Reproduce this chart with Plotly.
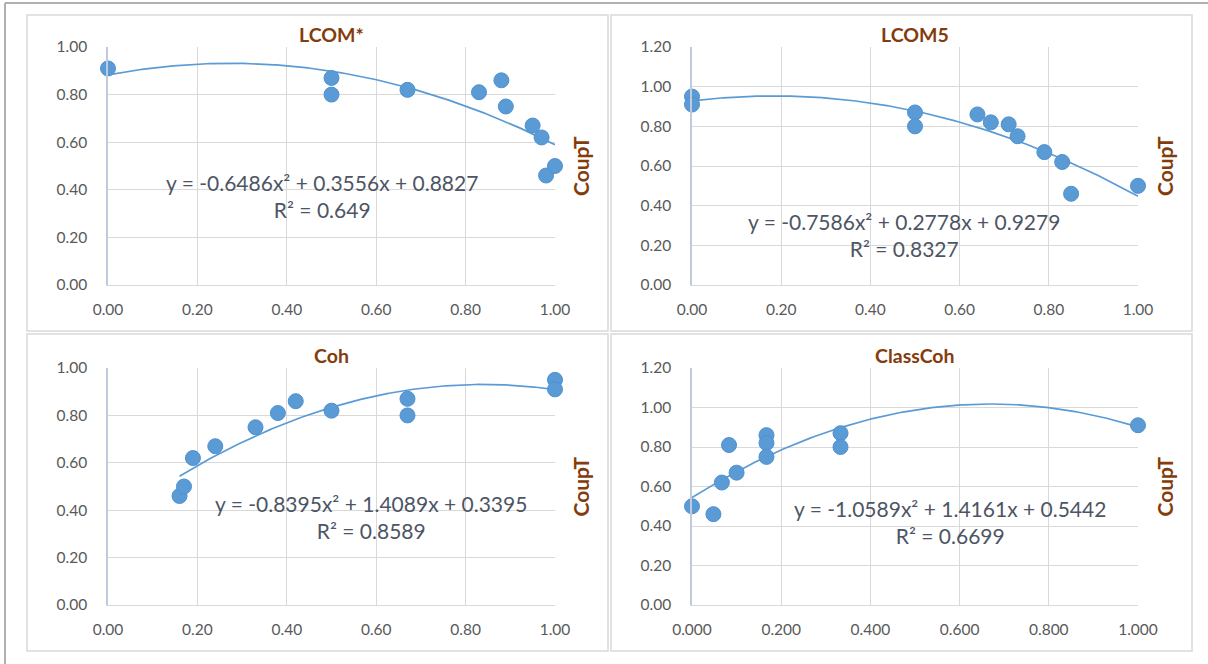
import numpy as np
import plotly.graph_objects as go

W, H = 1208, 664

# ---------------- data ----------------
lcom_star_x = [0.00, 0.50, 0.50, 0.67, 0.83, 0.88, 0.89, 0.95, 0.97, 0.98, 1.00]
lcom_star_y = [0.91, 0.87, 0.80, 0.82, 0.81, 0.86, 0.75, 0.67, 0.62, 0.46, 0.50]
lcom_star_coef = [-0.6486, 0.3556, 0.8827]
lcom_star_r2 = "0.649"

lcom5_x = [0.00, 0.00, 0.50, 0.50, 0.64, 0.67, 0.71, 0.73, 0.79, 0.83, 0.85, 1.00]
lcom5_y = [0.95, 0.91, 0.87, 0.80, 0.86, 0.82, 0.81, 0.75, 0.67, 0.62, 0.46, 0.50]
lcom5_coef = [-0.7586, 0.2778, 0.9279]
lcom5_r2 = "0.8327"

coh_x = [0.16, 0.17, 0.19, 0.24, 0.33, 0.38, 0.42, 0.50, 0.67, 0.67, 1.00, 1.00]
coh_y = [0.46, 0.50, 0.62, 0.67, 0.75, 0.81, 0.86, 0.82, 0.87, 0.80, 0.95, 0.91]
coh_coef = [-0.8395, 1.4089, 0.3395]
coh_r2 = "0.8589"

classcoh_x = [0.000, 0.048, 0.067, 0.083, 0.100, 0.167, 0.167, 0.167, 0.333, 0.333, 1.000]
classcoh_y = [0.50, 0.46, 0.62, 0.81, 0.67, 0.86, 0.82, 0.75, 0.87, 0.80, 0.91]
classcoh_coef = [-1.0589, 1.4161, 0.5442]
classcoh_r2 = "0.6699"

titles = ["LCOM*", "LCOM5", "Coh", "ClassCoh"]
y_title = "CoupT"
x_ticks = [0.0, 0.2, 0.4, 0.6, 0.8, 1.0]
y_ticks_a = [0.0, 0.2, 0.4, 0.6, 0.8, 1.0]
y_ticks_b = [0.0, 0.2, 0.4, 0.6, 0.8, 1.0, 1.2]

# ---------------- styling ----------------
BLUE = "#5B9BD5"
BROWN = "#843C0C"
TXT = "#4D5564"
TICK = "#595959"
GRID = "#D9D9D9"
FONT = "Lato"


def px(x):
    return min(max(x / W, 0.0), 1.0)


def py(y):
    return min(max(1 - y / H, 0.0), 1.0)


panels = [
    dict(x=lcom_star_x, y=lcom_star_y, coef=lcom_star_coef, r2=lcom_star_r2,
         fit=(0.0, 1.0), dom_x=(108, 555), dom_y=(47, 285), yr=1.0, yt=y_ticks_a,
         xfmt=".2f", eq=(0.479, 0.372), title_y=35, coup_x=580),
    dict(x=lcom5_x, y=lcom5_y, coef=lcom5_coef, r2=lcom5_r2,
         fit=(0.0, 1.0), dom_x=(692, 1138), dom_y=(47, 285), yr=1.2, yt=y_ticks_b,
         xfmt=".2f", eq=(0.475, 0.252), title_y=35, coup_x=1164),
    dict(x=coh_x, y=coh_y, coef=coh_coef, r2=coh_r2,
         fit=(0.16, 1.0), dom_x=(108, 555), dom_y=(368, 605), yr=1.0, yt=y_ticks_a,
         xfmt=".2f", eq=(0.588, 0.372), title_y=355, coup_x=580),
    dict(x=classcoh_x, y=classcoh_y, coef=classcoh_coef, r2=classcoh_r2,
         fit=(0.0, 1.0), dom_x=(692, 1138), dom_y=(368, 605), yr=1.2, yt=y_ticks_b,
         xfmt=".3f", eq=(0.578, 0.418), title_y=355, coup_x=1164),
]

fig = go.Figure()
layout = dict(
    width=W, height=H, margin=dict(l=0, r=0, t=0, b=0, pad=0, autoexpand=False),
    paper_bgcolor="white", plot_bgcolor="white", showlegend=False,
    font=dict(family=FONT, color=TXT, size=15),
)
annotations = []
shapes = []

for i, p in enumerate(panels):
    n = i + 1
    xa = "x" if n == 1 else f"x{n}"
    ya = "y" if n == 1 else f"y{n}"
    xkey = "xaxis" if n == 1 else f"xaxis{n}"
    ykey = "yaxis" if n == 1 else f"yaxis{n}"

    a, b, c = p["coef"]
    xs = np.linspace(p["fit"][0], p["fit"][1], 200)
    fig.add_trace(go.Scatter(x=xs, y=a * xs ** 2 + b * xs + c, mode="lines",
                             line=dict(color=BLUE, width=1.7), xaxis=xa, yaxis=ya,
                             hoverinfo="skip", cliponaxis=False))
    fig.add_trace(go.Scatter(x=p["x"], y=p["y"], mode="markers",
                             marker=dict(color=BLUE, size=15,
                                         line=dict(color="#4F90CF", width=1)),
                             xaxis=xa, yaxis=ya, cliponaxis=False))

    layout[xkey] = dict(
        domain=[px(p["dom_x"][0]), px(p["dom_x"][1])], range=[0, 1],
        anchor=ya, tickvals=x_ticks, tickformat=p["xfmt"], automargin=False,
        showgrid=True, gridcolor=GRID, gridwidth=1,
        showline=True, linecolor=GRID, linewidth=1, zeroline=False,
        ticks="", ticklabelstandoff=10, tickfont=dict(size=15.5, color=TICK, family=FONT),
    )
    layout[ykey] = dict(
        domain=[py(p["dom_y"][1]), py(p["dom_y"][0])], range=[0, p["yr"]],
        anchor=xa, tickvals=p["yt"], tickformat=".2f", automargin=False,
        showgrid=True, gridcolor=GRID, gridwidth=1,
        showline=True, linecolor="#BFCBDD", linewidth=1.5, zeroline=False,
        ticks="", ticklabelstandoff=16, tickfont=dict(size=15.5, color=TICK, family=FONT),
    )

    eq_text = f"y = {a:.4f}x² + {b:.4f}x + {c:.4f}<br>R² = {p['r2']}"
    annotations.append(dict(
        x=p["eq"][0], y=p["eq"][1], xref=f"{xa} domain", yref=ya,
        text=eq_text, showarrow=False, align="center",
        font=dict(family=FONT, size=21, color=TXT),
        xanchor="center", yanchor="middle",
    ))
    annotations.append(dict(
        x=(px(p["dom_x"][0]) + px(p["dom_x"][1])) / 2, y=py(p["title_y"]),
        xref="paper", yref="paper", text=f"<b>{titles[i]}</b>", showarrow=False,
        font=dict(family=FONT, size=19.5, color=BROWN), xanchor="center", yanchor="middle",
    ))
    annotations.append(dict(
        x=px(p["coup_x"]), y=py((p["dom_y"][0] + p["dom_y"][1]) / 2),
        xref="paper", yref="paper", text=f"<b>{y_title}</b>", showarrow=False,
        textangle=-90, font=dict(family=FONT, size=21, color=BROWN),
        xanchor="center", yanchor="middle",
    ))

for (x0, x1, y0, y1) in [(27, 608, 15, 331), (611, 1192, 15, 331),
                         (27, 608, 334, 651), (611, 1192, 334, 651)]:
    shapes.append(dict(type="rect", xref="paper", yref="paper",
                       x0=px(x0), x1=px(x1), y0=py(y1), y1=py(y0),
                       line=dict(color="#D9D9D9", width=1.5), layer="below"))
shapes.append(dict(type="line", xref="paper", yref="paper", x0=px(5), x1=px(5),
                   y0=0, y1=py(3), line=dict(color="#B0B0B0", width=2)))
shapes.append(dict(type="line", xref="paper", yref="paper", x0=px(5), x1=1,
                   y0=py(3), y1=py(3), line=dict(color="#B0B0B0", width=2)))

layout["annotations"] = annotations
layout["shapes"] = shapes
fig.update_layout(**layout)
fig.write_html("out.html", config={"displayModeBar": False},
               post_script="document.body.style.margin='0';document.body.style.padding='0';")
